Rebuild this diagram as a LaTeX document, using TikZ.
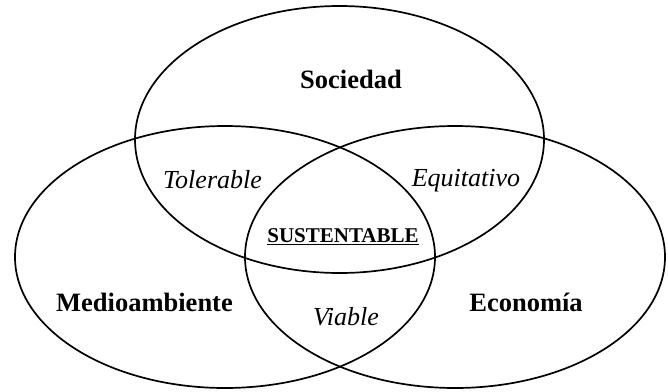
\documentclass[tikz,border=0pt]{standalone}
\usepackage{fontspec}
\setmainfont{Liberation Serif}
\usetikzlibrary{shapes.geometric}

\tikzset{conjunto/.style = {ellipse, draw, line width=1.7pt, inner sep=0pt,
                            minimum width=#1},
         conjunto/.default=420pt
        }

\begin{document}
\begin{tikzpicture}[x=1pt,y=-1pt]
\useasboundingbox (0,0) rectangle (668,391);
\tikzstyle{titulo}=[anchor=base, font=\fontsize{26.5}{28}\selectfont\bfseries]
\tikzstyle{zona}=[anchor=base, font=\fontsize{26}{28}\selectfont\itshape]
% los tres conjuntos
\node[conjunto=409pt, minimum height=267pt] at (339.5,139.5) (soc) {};
\node[conjunto, minimum height=262pt] at (225,257) (med) {};
\node[conjunto, minimum height=262pt] at (455,257) (eco) {};
% nombres
\node[titulo] at (351,88.3) (tsoc) {Sociedad};
\node[titulo] at (144.5,311.7) (tmed) {Medioambiente};
\node[titulo] at (526,311.7) (teco) {Economía};
% intersecciones
\node[zona] at (212.5,188.3) (tol) {Tolerable};
\node[zona] at (466,186.7) (equ) {Equitativo};
\node[zona] at (346,325) (via) {Viable};
\node[anchor=base, font=\fontsize{21}{24}\selectfont\bfseries] at (343,242.7) (sus) {\underline{SUSTENTABLE}};
\end{tikzpicture}
\end{document}
